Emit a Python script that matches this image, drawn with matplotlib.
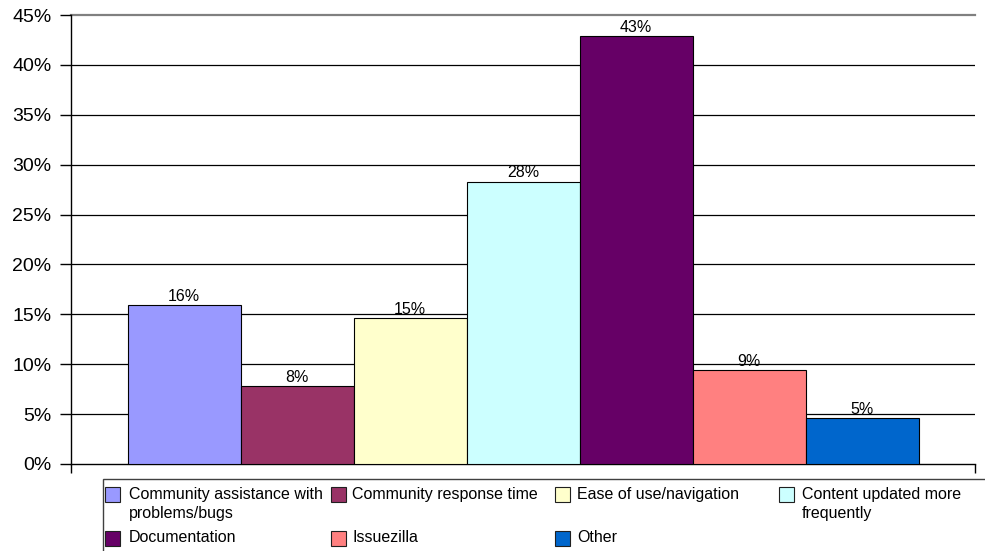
import matplotlib
matplotlib.use("Agg")
import matplotlib.pyplot as plt
from matplotlib.patches import Rectangle
from matplotlib.ticker import FuncFormatter

plt.rcParams['font.family'] = ['Liberation Sans', 'DejaVu Sans']

categories = [
    "Community assistance with\nproblems/bugs",
    "Community response time",
    "Ease of use/navigation",
    "Content updated more\nfrequently",
    "Documentation",
    "Issuezilla",
    "Other",
]
values = [15.9, 7.8, 14.6, 28.3, 42.9, 9.4, 4.6]
colors = ["#9999FF", "#993366", "#FFFFCC", "#CCFFFF", "#660066", "#FF8080", "#0066CC"]
yticks = [0, 5, 10, 15, 20, 25, 30, 35, 40, 45]

W, H = 985, 551
fig = plt.figure(figsize=(W / 100, H / 100), dpi=100)

def fx(x):
    return x / W

def fy(y):
    return 1 - y / H

ax = fig.add_axes([fx(71), fy(464), fx(975) - fx(71), fy(15) - fy(464)])

xs = list(range(len(values)))
bars = ax.bar(xs, values, width=1.0, color=colors, edgecolor="black", linewidth=0.8, zorder=3)
ax.bar_label(bars, labels=[f"{v:.0f}%" for v in values], padding=1, fontsize=11.5, zorder=4)

ax.set_xlim(-1.0, 7.0)
ax.set_ylim(0, 45)
ax.set_yticks(yticks)
ax.yaxis.set_major_formatter(FuncFormatter(lambda v, p: f"{v:.0f}%"))
ax.tick_params(axis="y", direction="out", length=8, width=1, labelsize=14, pad=6, color="black")
ax.set_xticks([-1.0, 7.0])
ax.set_xticklabels([])
ax.tick_params(axis="x", direction="out", length=6.5, width=1, color="black")

for t in yticks[1:-1]:
    ax.axhline(t, color="black", linewidth=0.9, zorder=1)
ax.axhline(45, color="#808080", linewidth=1.6, zorder=1, clip_on=False)

for s in ["top", "right"]:
    ax.spines[s].set_visible(False)
ax.spines["left"].set_linewidth(1)
ax.spines["bottom"].set_linewidth(1)

# Legend (manual, row-major like the reference)
fig.patches.append(Rectangle((fx(102.5), fy(570)), fx(1010) - fx(102.5), fy(478.5) - fy(570),
                             transform=fig.transFigure, facecolor="white", edgecolor="#404040",
                             linewidth=1.0))
sq_x = [105, 331, 555, 779]
tx_x = [129, 352, 577, 802]
row_y = [494, 538]
sq = 15
for i, (lab, col) in enumerate(zip(categories, colors)):
    r, c = divmod(i, 4)
    cy = row_y[r]
    fig.patches.append(Rectangle((fx(sq_x[c]), fy(cy + sq / 2)), sq / W, sq / H,
                                 transform=fig.transFigure, facecolor=col,
                                 edgecolor="#202020", linewidth=0.8))
    fig.text(fx(tx_x[c]), fy(cy - 7.5), lab, fontsize=11.5, va="top", ha="left",
             linespacing=1.4)

fig.savefig("out.png", dpi=100)
